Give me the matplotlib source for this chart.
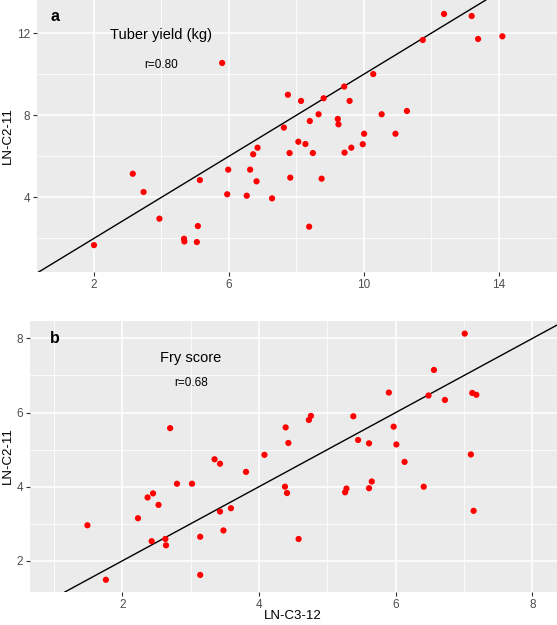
import matplotlib
matplotlib.use("Agg")
import matplotlib.pyplot as plt

plt.rcParams['font.family'] = ['Liberation Sans', 'DejaVu Sans']

# ---------------- data ----------------
tuber_x = [5.80, 7.75, 7.63, 6.85, 6.72, 7.80, 5.98, 6.63, 5.14, 6.82, 7.82, 3.15,
           3.47, 5.95, 6.53, 7.28, 3.94, 5.08, 4.67, 4.68, 5.05, 2.00,
           12.38, 13.20, 11.75, 13.39, 14.11, 10.28, 9.42, 8.14, 8.81, 9.58, 8.66,
           8.40, 9.23, 9.25, 10.53, 11.28, 10.01, 10.94, 8.06, 8.27, 9.97, 9.63,
           9.43, 8.49, 8.75, 8.38]
tuber_y = [10.55, 9.00, 7.40, 6.42, 6.10, 6.16, 5.35, 5.35, 4.84, 4.78, 4.96, 5.15,
           4.26, 4.15, 4.08, 3.95, 2.96, 2.60, 1.98, 1.85, 1.82, 1.67,
           12.94, 12.84, 11.67, 11.72, 11.85, 10.01, 9.40, 8.70, 8.83, 8.70, 8.05,
           7.72, 7.82, 7.56, 8.05, 8.21, 7.10, 7.10, 6.71, 6.60, 6.59, 6.42,
           6.18, 6.16, 4.91, 2.57]

fry_x = [2.70, 4.39, 4.43, 4.08, 3.35, 3.43, 3.81, 2.80, 3.02, 4.38, 4.41, 2.37,
         2.45, 2.53, 3.43, 3.59, 2.23, 1.49, 3.48, 3.14, 2.43, 2.63, 2.64, 1.76, 3.14,
         7.01, 6.56, 5.90, 6.48, 6.72, 7.12, 7.18, 4.76, 4.73, 5.38, 5.97, 5.45,
         5.61, 6.01, 6.13, 7.10, 5.65, 5.28, 5.26, 5.61, 6.41, 7.14, 4.58]
fry_y = [5.58, 5.60, 5.18, 4.86, 4.74, 4.62, 4.40, 4.08, 4.08, 4.00, 3.83, 3.71,
         3.82, 3.51, 3.33, 3.42, 3.15, 2.96, 2.82, 2.65, 2.53, 2.59, 2.42, 1.49, 1.62,
         8.13, 7.15, 6.54, 6.46, 6.34, 6.53, 6.48, 5.91, 5.80, 5.90, 5.62, 5.26,
         5.17, 5.14, 4.67, 4.87, 4.14, 3.95, 3.85, 3.96, 4.00, 3.35, 2.59]

line_intercept = 0.0
line_slope = 1.0

a_xticks = [2, 6, 10, 14]
a_xminor = [0, 4, 8, 12]
a_yticks = [4, 8, 12]
a_yminor = [2, 6, 10]
b_xticks = [2, 4, 6, 8]
b_xminor = [1, 3, 5, 7]
b_yticks = [2, 4, 6, 8]
b_yminor = [1, 3, 5, 7]

panel_letters = ['a', 'b']
panel_titles = ['Tuber yield (kg)', 'Fry score']
panel_r = ['r=0.80', 'r=0.68']
y_label = 'LN-C2-11'
x_label = 'LN-C3-12'

# ---------------- figure ----------------
fig = plt.figure(figsize=(5.57, 6.25), dpi=100)
W, H = 557, 625

def px_axes(l, t, r, b):
    return fig.add_axes([l / W, 1 - b / H, (r - l) / W, (b - t) / H])

ax_a = px_axes(37, 0, 557, 272)
ax_b = px_axes(30, 321, 557, 592)

def style(ax, xt, xm, yt, ym):
    ax.set_facecolor('#EBEBEB')
    for s in ax.spines.values():
        s.set_visible(False)
    ax.set_xticks(xt)
    ax.set_xticks(xm, minor=True)
    ax.set_yticks(yt)
    ax.set_yticks(ym, minor=True)
    ax.grid(which='major', color='white', linewidth=1.1)
    ax.grid(which='minor', color='white', linewidth=0.55)
    ax.set_axisbelow(True)
    ax.tick_params(which='major', length=3, width=0.8, color='#333333',
                   labelsize=8.5, labelcolor='#4D4D4D', pad=2)
    ax.tick_params(which='minor', length=0)

# Panel a
style(ax_a, a_xticks, a_xminor, a_yticks, a_yminor)
ax_a.set_xlim(0.31, 15.73)
ax_a.set_ylim(0.36, 13.62)
ax_a.scatter(tuber_x, tuber_y, s=20, color='#FF0000', edgecolors='none', zorder=3)
ax_a.axline((0, line_intercept), slope=line_slope, color='black', lw=1.0, zorder=2)
ax_a.text(0.85, 12.81, panel_letters[0], fontsize=11.5, fontweight='bold', ha='center', va='center')
ax_a.text(4.0, 11.92, panel_titles[0], fontsize=10.5, ha='center', va='center')
ax_a.text(4.0, 10.45, panel_r[0], fontsize=8.5, ha='center', va='center')

# Panel b
style(ax_b, b_xticks, b_xminor, b_yticks, b_yminor)
ax_b.set_xlim(0.65, 8.36)
ax_b.set_ylim(1.16, 8.47)
ax_b.scatter(fry_x, fry_y, s=20, color='#FF0000', edgecolors='none', zorder=3)
ax_b.axline((0, line_intercept), slope=line_slope, color='black', lw=1.0, zorder=2)
ax_b.text(1.02, 8.0, panel_letters[1], fontsize=11.5, fontweight='bold', ha='center', va='center')
ax_b.text(3.0, 7.46, panel_titles[1], fontsize=10.5, ha='center', va='center')
ax_b.text(3.0, 6.79, panel_r[1], fontsize=8.5, ha='center', va='center')

# axis titles placed in figure pixels
fig.text(8 / W, 1 - 136 / H, y_label, rotation=90, fontsize=9.5, ha='center', va='center')
fig.text(8 / W, 1 - 456 / H, y_label, rotation=90, fontsize=9.5, ha='center', va='center')
fig.text(293 / W, 1 - 616 / H, x_label, fontsize=9.5, ha='center', va='center')

fig.savefig('out.png', dpi=100)
